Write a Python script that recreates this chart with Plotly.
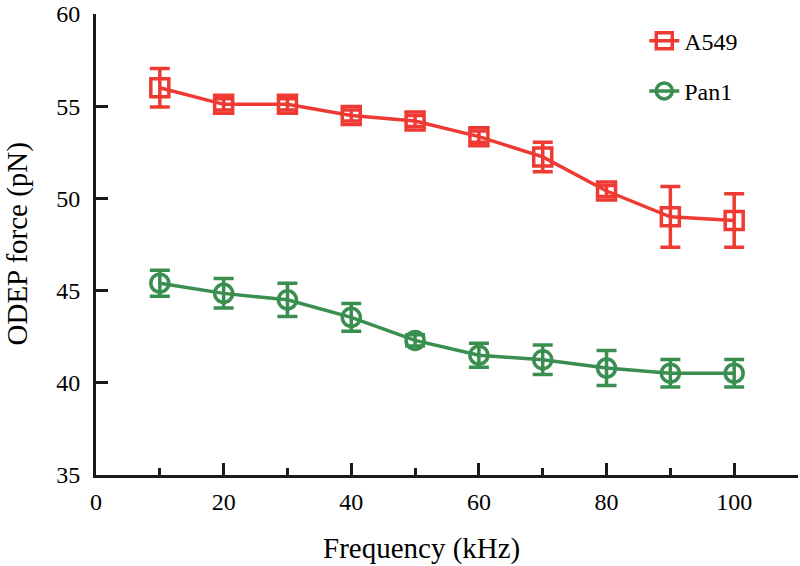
import plotly.graph_objects as go

freq = [10, 20, 30, 40, 50, 60, 70, 80, 90, 100]
a549 = [56.0, 55.1, 55.1, 54.5, 54.2, 53.35, 52.25, 50.4, 49.0, 48.8]
a549_err = [1.05, 0.3, 0.3, 0.3, 0.3, 0.3, 0.8, 0.3, 1.65, 1.45]
pan1 = [45.4, 44.85, 44.5, 43.55, 42.3, 41.5, 41.25, 40.8, 40.52, 40.52]
pan1_err = [0.7, 0.8, 0.9, 0.75, 0.3, 0.65, 0.8, 0.95, 0.75, 0.75]

RED = "#EE3A33"
GREEN = "#3A8E50"
FONT = "Liberation Serif"

fig = go.Figure()
fig.add_trace(go.Scatter(
    x=freq, y=a549, name="A549", mode="lines+markers", legendgroup="a",
    line=dict(color=RED, width=3.5),
    marker=dict(symbol="square-open", size=18, color=RED, line=dict(width=3.5, color=RED)),
    error_y=dict(type="data", array=a549_err, color=RED, thickness=3.5, width=10),
))
fig.add_trace(go.Scatter(
    x=freq, y=pan1, name="Pan1", mode="lines+markers", legendgroup="b",
    line=dict(color=GREEN, width=3.5),
    marker=dict(symbol="circle-open", size=18, color=GREEN, line=dict(width=3.5, color=GREEN)),
    error_y=dict(type="data", array=pan1_err, color=GREEN, thickness=3.5, width=10),
))

fig.update_layout(
    width=800, height=566,
    margin=dict(l=96, r=2, t=14, b=91),
    paper_bgcolor="white", plot_bgcolor="white",
    font=dict(family=FONT, size=24, color="black"),
    showlegend=True,
    legend=dict(x=0.781, y=0.99, xanchor="left", yanchor="top",
                font=dict(family=FONT, size=24), bgcolor="rgba(0,0,0,0)",
                tracegroupgap=16, traceorder="grouped"),
    xaxis=dict(range=[0, 110], tickvals=[0, 20, 40, 60, 80, 100], ticks="inside",
               ticklen=12, tickwidth=3, tickcolor="#1a1a1a", showline=True,
               linecolor="#1a1a1a", linewidth=3, showgrid=False, zeroline=False,
               ticklabelstandoff=3, automargin=False, ticklabeloverflow="allow",
               minor=dict(dtick=10, tick0=0, ticks="inside", ticklen=7, tickwidth=3,
                          tickcolor="#1a1a1a", showgrid=False)),
    yaxis=dict(range=[35, 60], tickvals=[35, 40, 45, 50, 55, 60], ticks="inside",
               ticklen=12, tickwidth=3, tickcolor="#1a1a1a", showline=True,
               linecolor="#1a1a1a", linewidth=3, showgrid=False, zeroline=False,
               ticklabelstandoff=8, automargin=False, ticklabeloverflow="allow"),
    annotations=[
        dict(text="Frequency (kHz)", x=0.463, y=0, xref="paper", yref="paper",
             xanchor="center", yanchor="middle", yshift=-73, showarrow=False,
             font=dict(family=FONT, size=29)),
        dict(text="ODEP force (pN)", x=0, y=0.5, xref="paper", yref="paper",
             xanchor="center", yanchor="middle", xshift=-79, textangle=-90,
             showarrow=False, font=dict(family=FONT, size=29)),
    ],
)

fig.write_html("out.html", config={"displayModeBar": False},
               post_script="document.body.style.margin='0';document.body.style.overflow='hidden';")
